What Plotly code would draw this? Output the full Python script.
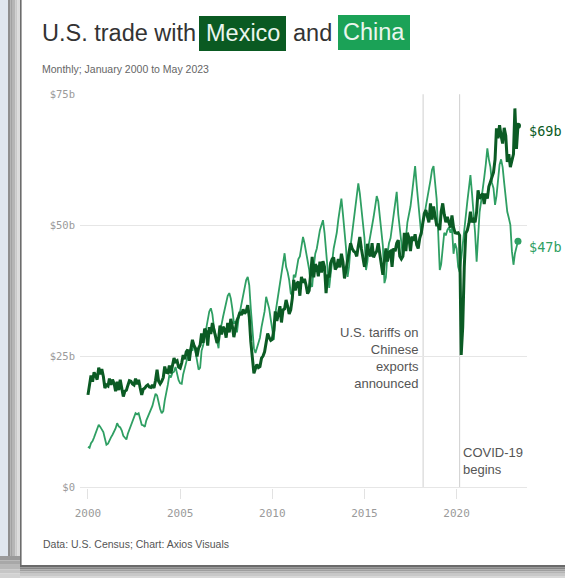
import pandas as pd
import plotly.graph_objects as go

# Monthly U.S. goods trade (exports + imports), billions of dollars
months = pd.date_range("2000-01-01", "2023-05-01", freq="MS")

mexico = [
    17.7, 19.8, 21.4, 20.2, 22.0, 21.4, 20.6, 22.9, 21.6, 22.6, 21.2, 19.0,  # 2000
    19.6, 19.4, 20.8, 19.6, 20.6, 19.9, 18.4, 20.2, 18.6, 20.6, 18.8, 17.4,  # 2001
    18.4, 18.6, 19.5, 20.4, 20.3, 19.8, 19.6, 20.8, 19.7, 20.6, 19.0, 17.7,  # 2002
    18.8, 19.0, 19.4, 19.6, 19.2, 19.1, 19.6, 19.0, 20.5, 22.5, 20.3, 19.8,  # 2003
    20.3, 21.0, 23.1, 22.0, 21.9, 23.3, 21.8, 23.6, 24.7, 24.0, 24.2, 23.0,  # 2004
    22.8, 23.8, 25.3, 24.5, 25.9, 26.3, 24.2, 26.5, 28.2, 27.1, 26.6, 25.0,  # 2005
    26.6, 27.2, 29.4, 27.6, 30.3, 29.8, 27.1, 30.6, 29.3, 31.4, 30.1, 28.5,  # 2006
    27.6, 28.3, 30.9, 29.2, 30.7, 30.2, 28.6, 31.4, 29.6, 32.2, 30.8, 28.7,  # 2007
    30.6, 31.9, 32.6, 33.5, 32.9, 34.0, 33.2, 33.6, 34.8, 32.6, 27.8, 24.8,  # 2008
    21.8, 22.7, 23.5, 22.9, 23.1, 24.7, 25.1, 25.9, 28.2, 29.4, 28.6, 28.1,  # 2009
    28.3, 30.1, 33.6, 31.8, 33.1, 34.6, 31.5, 33.9, 34.1, 35.8, 34.6, 33.1,  # 2010
    33.9, 36.1, 39.6, 37.6, 38.9, 39.3, 36.6, 40.2, 39.1, 39.8, 38.6, 37.0,  # 2011
    37.6, 40.6, 44.0, 40.1, 42.6, 42.1, 40.3, 43.1, 41.0, 43.2, 42.1, 37.1,  # 2012
    40.6, 40.1, 42.8, 43.6, 43.9, 41.6, 42.1, 43.6, 42.0, 44.6, 43.1, 39.9,  # 2013
    41.6, 43.1, 44.7, 46.6, 45.6, 45.1, 44.9, 44.1, 46.1, 47.8, 45.6, 43.6,  # 2014
    42.1, 43.6, 46.5, 44.6, 44.1, 46.6, 43.9, 44.6, 45.1, 46.6, 44.1, 42.6,  # 2015
    40.6, 42.9, 45.6, 43.1, 44.9, 45.1, 42.1, 45.6, 45.1, 46.6, 47.2, 44.1,  # 2016
    43.6, 44.1, 48.6, 45.1, 48.6, 47.6, 45.1, 47.9, 47.1, 48.3, 46.3, 45.6,  # 2017
    47.6, 48.6, 50.4, 52.3, 52.9, 51.6, 50.6, 54.2, 51.1, 53.6, 51.6, 50.1,  # 2018
    50.1, 49.1, 52.6, 54.2, 52.1, 50.6, 51.6, 50.3, 49.6, 51.9, 49.6, 48.6,  # 2019
    48.5, 48.6, 48.1, 25.3, 30.6, 42.1, 48.5, 49.1, 50.4, 52.6, 50.6, 51.1,  # 2020
    50.6, 52.6, 56.7, 55.1, 55.6, 56.1, 54.1, 56.1, 55.1, 57.4, 58.3, 59.1,  # 2021
    60.1, 62.6, 68.5, 66.6, 69.1, 67.1, 65.6, 68.6, 67.1, 62.1, 63.6, 61.1,  # 2022
    62.1, 63.6, 72.3, 64.6, 69.0,                                            # 2023
]

china = [
    7.8, 7.6, 8.5, 8.9, 9.6, 10.4, 11.0, 12.0, 11.6, 11.2, 10.6, 9.4,        # 2000
    8.2, 8.4, 9.1, 9.6, 10.1, 10.6, 11.3, 12.3, 11.7, 11.5, 10.9, 9.9,       # 2001
    9.5, 9.2, 10.3, 11.1, 11.8, 12.6, 13.3, 14.2, 14.0, 14.2, 13.1, 12.0,    # 2002
    11.9, 11.6, 12.8, 13.5, 14.1, 14.9, 15.6, 16.8, 17.9, 17.6, 16.1, 15.0,  # 2003
    14.2, 14.6, 16.6, 18.0, 19.6, 21.5, 21.0, 21.9, 22.1, 23.0, 21.6, 20.5,  # 2004
    19.9, 19.8, 21.6, 23.1, 23.9, 25.1, 25.6, 26.6, 26.1, 27.6, 26.1, 24.6,  # 2005
    22.5, 22.9, 26.1, 27.1, 28.6, 30.1, 31.6, 33.6, 34.2, 33.1, 30.6, 29.1,  # 2006
    27.7, 26.6, 30.1, 31.1, 32.6, 33.9, 35.1, 36.6, 37.1, 36.1, 34.1, 31.4,  # 2007
    31.6, 29.6, 32.1, 33.6, 35.1, 36.6, 38.1, 39.6, 40.2, 38.6, 34.1, 30.6,  # 2008
    26.6, 25.7, 26.6, 28.1, 28.6, 30.6, 32.1, 33.6, 36.4, 35.1, 34.1, 32.1,  # 2009
    30.1, 28.2, 33.1, 35.1, 37.1, 39.1, 40.6, 42.6, 44.7, 42.1, 41.1, 39.6,  # 2010
    37.1, 36.6, 40.6, 40.1, 42.1, 43.6, 44.1, 46.1, 47.8, 46.6, 45.1, 43.1,  # 2011
    41.6, 38.6, 38.3, 42.1, 44.6, 45.6, 47.6, 49.1, 50.1, 51.0, 48.6, 45.1,  # 2012
    43.1, 38.1, 40.6, 43.6, 45.6, 47.1, 48.6, 51.1, 53.6, 55.1, 52.1, 48.6,  # 2013
    45.6, 40.2, 42.1, 46.1, 48.6, 50.6, 52.6, 55.1, 58.0, 56.1, 53.1, 50.1,  # 2014
    47.6, 41.5, 43.1, 46.6, 48.1, 49.6, 51.6, 53.6, 55.6, 54.6, 51.6, 49.1,  # 2015
    46.1, 39.0, 40.1, 44.6, 46.6, 47.6, 49.6, 52.1, 54.6, 56.4, 52.1, 49.6,  # 2016
    47.1, 44.0, 45.6, 47.6, 50.6, 52.1, 53.6, 56.1, 58.6, 61.3, 57.6, 54.6,  # 2017
    52.6, 48.1, 50.4, 51.6, 53.6, 55.1, 56.6, 58.6, 60.6, 61.3, 58.1, 55.1,  # 2018
    48.6, 41.5, 42.6, 45.6, 48.6, 48.1, 49.1, 49.6, 48.6, 49.6, 44.6, 46.6,  # 2019
    45.6, 42.1, 41.1, 43.6, 46.6, 49.6, 52.1, 54.6, 57.1, 59.6, 56.1, 52.6,  # 2020
    48.6, 43.1, 48.6, 52.6, 54.6, 56.6, 59.1, 61.6, 64.7, 62.6, 61.1, 58.1,  # 2021
    57.1, 53.9, 55.6, 58.6, 61.6, 62.6, 61.1, 58.1, 55.6, 52.6, 51.4, 50.1,  # 2022
    45.1, 42.5, 44.6, 46.1, 47.0,                                            # 2023
]

y_tickvals = [0, 25, 50, 75]
y_ticktext = ["$0", "$25b", "$50b", "$75b"]
x_tickvals = ["2000-01-01", "2005-01-01", "2010-01-01", "2015-01-01", "2020-01-01"]
x_ticktext = ["2000", "2005", "2010", "2015", "2020"]

event_dates = ["2018-03-08", "2020-03-01"]
event_labels = ["U.S. tariffs on<br>Chinese<br>exports<br>announced", "COVID-19<br>begins"]

MEX_LINE = "#0b5b24"
CHN_LINE = "#2f9f63"
MEX_BOX = "#0a5a22"
CHN_BOX = "#1ba257"
GRID = "#e6e6e6"

# page geometry (pixels)
W, H = 565, 578
L, R, T, B = 80, 38, 94, 90
PW, PH = W - L - R, H - T - B


def px(x):
    return (x - L) / PW


def py(y):
    return (H - B - y) / PH


fig = go.Figure()

fig.add_trace(go.Scatter(
    x=months, y=china, mode="lines",
    line=dict(color=CHN_LINE, width=1.8), hoverinfo="skip",
))
fig.add_trace(go.Scatter(
    x=months, y=mexico, mode="lines",
    line=dict(color=MEX_LINE, width=3), hoverinfo="skip",
))
# end-point dots
fig.add_trace(go.Scatter(
    x=[months[-1]], y=[china[-1]], mode="markers",
    marker=dict(color=CHN_LINE, size=7), hoverinfo="skip",
))
fig.add_trace(go.Scatter(
    x=[months[-1]], y=[mexico[-1]], mode="markers",
    marker=dict(color=MEX_LINE, size=6), hoverinfo="skip",
))

shapes = []
# event rules
for d in event_dates:
    shapes.append(dict(type="line", xref="x", yref="y", x0=d, x1=d, y0=0, y1=75,
                       line=dict(color="#cfcfcf", width=1), layer="below"))


def rect(x0, y0, x1, y1, color):
    return dict(type="rect", xref="paper", yref="paper",
                x0=px(x0), x1=px(x1), y0=py(y1), y1=py(y0),
                fillcolor=color, line=dict(width=0), layer="above")


# surrounding frame
shapes.append(rect(0, 0, 8, 556, "#dfe6ee"))
for i, c in enumerate(["#8e8e8e", "#a2a2a2", "#b6b6b6", "#cacaca", "#dcdcdc"]):
    shapes.append(rect(8 + i * 2.4, 0, 8 + (i + 1) * 2.4, 556, c))
shapes.append(rect(20, 0, 21.6, 567, "#6c6c6c"))
for i, c in enumerate(["#9a9a9a", "#a8a8a8", "#b8b8b8", "#c6c6c6", "#d2d2d2"]):
    shapes.append(rect(0, 556 + i * 4.4, 20, 556 + (i + 1) * 4.4, c))
for i, c in enumerate(["#6a6a6a", "#858585", "#9e9e9e", "#b4b4b4", "#c8c8c8", "#d8d8d8"]):
    shapes.append(rect(20, 565 + i * 2.2, 565, 565 + (i + 1) * 2.2, c))

# highlighted words in the headline
shapes.append(rect(199, 16, 286, 51, MEX_BOX))
shapes.append(rect(338, 15, 410, 50, CHN_BOX))

annotations = []
TITLE_FONT = "Liberation Sans, Arial, sans-serif"


def text(x, y, s, size, color, xanchor="left", family=TITLE_FONT):
    annotations.append(dict(xref="paper", yref="paper", x=px(x), y=py(y), text=s,
                            showarrow=False, xanchor=xanchor, yanchor="middle",
                            font=dict(family=family, size=size, color=color)))


text(40, 33, "U.S. trade with", 23.5, "#333333")
text(242.5, 33, "Mexico", 23.5, "#eaf6ee", xanchor="center")
text(291, 33, "and", 23.5, "#333333")
text(374, 32.5, "China", 23.5, "#eaf6ee", xanchor="center")
text(40, 69, "Monthly; January 2000 to May 2023", 10.5, "#666666")
text(41, 544, "Data: U.S. Census; Chart: Axios Visuals", 10.5, "#555555")

# event notes
annotations.append(dict(xref="x", yref="paper", x=event_dates[0], y=py(357.5),
                        text=event_labels[0], showarrow=False, xanchor="right",
                        yanchor="middle", align="right", xshift=-2,
                        font=dict(family=TITLE_FONT, size=13, color="#555555")))
annotations.append(dict(xref="x", yref="paper", x=event_dates[1], y=py(461),
                        text=event_labels[1], showarrow=False, xanchor="left",
                        yanchor="middle", align="left", xshift=1,
                        font=dict(family=TITLE_FONT, size=13, color="#555555")))

# end-of-line value labels
for series, color, dy in ((mexico, MEX_LINE, -5), (china, CHN_LINE, -6)):
    annotations.append(dict(xref="x", yref="y", x=months[-1], y=series[-1],
                            text=f"${round(series[-1])}b", showarrow=False,
                            xanchor="left", yanchor="middle", xshift=9, yshift=dy,
                            font=dict(family="DejaVu Sans Mono, monospace", size=13.5,
                                      color=color)))

fig.update_layout(
    width=W, height=H,
    margin=dict(l=L, r=R, t=T, b=B, pad=0),
    paper_bgcolor="white", plot_bgcolor="white",
    showlegend=False,
    shapes=shapes,
    annotations=annotations,
    xaxis=dict(
        type="date", range=["1999-07-27", "2023-10-27"],
        tickvals=x_tickvals, ticktext=x_ticktext,
        showgrid=False, zeroline=False, showline=False,
        ticks="outside", ticklen=10, tickcolor="#e2e2e2", tickwidth=1,
        ticklabelstandoff=5,
        tickfont=dict(family="DejaVu Sans Mono, monospace", size=11, color="#9a9a9a"),
        fixedrange=True,
    ),
    yaxis=dict(
        range=[-0.05, 75.05],
        tickvals=y_tickvals, ticktext=y_ticktext,
        showgrid=True, gridcolor=GRID, gridwidth=1,
        zeroline=True, zerolinecolor=GRID, zerolinewidth=1,
        showline=False, ticks="",
        ticklabelstandoff=4,
        tickfont=dict(family="DejaVu Sans Mono, monospace", size=10.5, color="#9a9a9a"),
        fixedrange=True,
    ),
)

fig.write_html("out.html")
